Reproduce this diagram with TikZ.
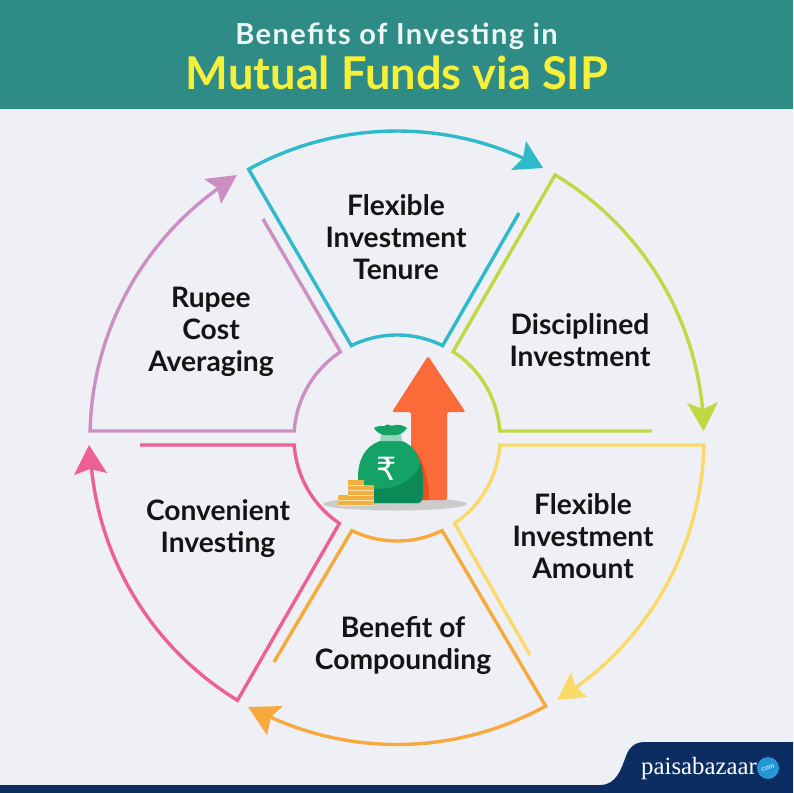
\documentclass[tikz,border=0pt]{standalone}
\usepackage{fontspec}
\setmainfont{Lato}
\newfontfamily\logofont{Liberation Serif}
\newfontfamily\symfont{DejaVu Sans}
\usetikzlibrary{calc}
\definecolor{bgc}{HTML}{EEF0F5}
\definecolor{headc}{HTML}{2E8B85}
\definecolor{titley}{HTML}{F6F03A}
\definecolor{navy}{HTML}{0B2D62}
\definecolor{cteal}{HTML}{2FBACB}
\definecolor{cgreen}{HTML}{BFD943}
\definecolor{cyellow}{HTML}{FBD968}
\definecolor{corange}{HTML}{F8A93C}
\definecolor{cpink}{HTML}{EE6094}
\definecolor{cmauve}{HTML}{CD8FC3}
\definecolor{upc}{HTML}{FB6B3A}
\definecolor{upd}{HTML}{E8501F}
\definecolor{bagc}{HTML}{14A266}
\definecolor{bagd}{HTML}{0B8A58}
\definecolor{coinc}{HTML}{F2B13E}
\newcommand{\cx}{397}
\newcommand{\cy}{438}
\tikzset{
  x=1pt,y=-1pt,
  ring/.style n args={3}{insert path={-- plot[domain=#1:#2,samples=50] ({\cx+#3*cos(\x)},{\cy+#3*sin(\x)})}},
  seg/.style={line width=3.4pt,line join=miter,miter limit=10,line cap=butt},
  tipshape/.style={draw=none},
  lbl/.style={font=\fontsize{28.2}{32}\selectfont\bfseries,align=center,text=black!92,inner sep=0pt},
}
\begin{document}
\begin{tikzpicture}
\useasboundingbox (0,0) rectangle (793,793);
\fill[bgc] (0,0) rectangle (793,793);
\fill[headc] (0,0) rectangle (793,109);
\node[inner sep=0pt,text=white!92!headc,font=\fontsize{29}{34}\selectfont\bfseries\addfontfeatures{LetterSpace=5}] (t1) at (396.5,36) {Benefits of Investing in};
\node[inner sep=0pt,text=titley,font=\fontsize{45.2}{50}\selectfont\bfseries] (t2) at (397,73) {Mutual Funds via SIP};

% teal
\draw[seg,cteal] (519,213) [ring={296.3}{243.7}{103}] [ring={241.1}{295}{307}];
\fill[tipshape,cteal] (543,168) -- (526,141) -- (523,158) -- (511,170) -- cycle;
% green
\draw[seg,cgreen] (652,431) [ring={356.1}{303}{103}] [ring={301}{355.5}{307}];
\fill[tipshape,cgreen] (703.5,431) -- (687,403) -- (703,409) -- (718,402) -- cycle;
% yellow
\draw[seg,cyellow] (530,655) [ring={56}{3.9}{103}] [ring={1.3}{55}{307}];
\fill[tipshape,cyellow] (557,700) -- (571,672) -- (575,685) -- (587,697) -- cycle;
% orange
\draw[seg,corange] (274,662) [ring={116}{64}{103}] [ring={61}{115.5}{306.5}];
\fill[tipshape,corange] (248,707) -- (283,706) -- (271,717) -- (267,735) -- cycle;
% pink
\draw[seg,cpink] (140,445) [ring={176.1}{124}{103}] [ring={121.3}{175}{307}];
\fill[tipshape,cpink] (89,445) -- (74,475) -- (90,469) -- (107,473) -- cycle;
% mauve
\draw[seg,cmauve] (263,219) [ring={236.7}{183.9}{103}] [ring={181.3}{235}{307}];
\fill[tipshape,cmauve] (237,175) -- (204,179) -- (217,188) -- (221,204) -- cycle;

% labels
\node[lbl] (n1) at (396,237) {Flexible\\Investment\\Tenure};
\node[lbl] (n2) at (580,340) {Disciplined\\Investment};
\node[lbl] (n3) at (583,536) {Flexible\\Investment\\Amount};
\node[lbl] (n4) at (403,646) {Benefit of\\Compounding};
\node[lbl] (n5) at (218,529) {Convenient\\Investing};
\node[lbl] (n6) at (211,332) {Rupee\\Cost\\Averaging};

% centre icon
\fill[black!20] (395,504) ellipse [x radius=72,y radius=6.5];
\fill[upc,rounded corners=1.5pt] (428,356) -- (465.5,412) -- (447,412) -- (447,500) -- (411,500) -- (411,412) -- (392,412) -- cycle;
\fill[upd] (411,446) .. controls (423,456) and (429,480) .. (429,500) -- (411,500) -- cycle;
\fill[bagc] (380,441) .. controls (366,446) and (358,458) .. (358,478) .. controls (358,488) and (360,496) .. (362,503)
  -- (418,503) .. controls (423,503) and (423,497) .. (423,485) .. controls (423,465) and (418,447) .. (402,441) -- cycle;
\fill[bagd] (421,462) .. controls (417,480) and (392,494) .. (363,487) .. controls (365,495) and (364,500) .. (366,503) -- (418,503) .. controls (423,503) and (423,497) .. (423,485) .. controls (423,477) and (422,469) .. (421,462) -- cycle;
\fill[bagc!45!white] (381,434) -- (401,434) -- (402,441) -- (380,441) -- cycle;
\fill[bagc] (374,428) .. controls (380,424) and (384,428) .. (386,425) .. controls (388,423) and (391,427) .. (393,425.5) .. controls (398,424) and (403,425) .. (407,428) .. controls (403,434) and (398,436) .. (391,435) .. controls (385,436) and (378,435) .. (374,428) -- cycle;
\node[inner sep=0pt,text=white,font=\symfont\fontsize{32}{32}\selectfont] (rs) at (387,469) {₹};
% coins
\foreach \yy/\xa/\xb in {500/338/374,495/338/374,490/348/374,485/348/374,480/348/364}{
  \fill[coinc] (\xa,\yy) rectangle (\xb,\yy+5);
  \draw[white!60!coinc,line width=0.6pt] (\xa,\yy+5) -- (\xb,\yy+5);
}

% logo
\fill[navy] (0,785) -- (600,785) .. controls (616,785) and (621,770) .. (626,756) .. controls (629,748) and (634,742) .. (645,742) -- (793,742) -- (793,793) -- (0,793) -- cycle;
\node[inner sep=0pt,text=white,font=\logofont\fontsize{24.8}{25}\selectfont,anchor=west] (lg) at (641,769) {paisabazaar};
\fill[cteal!80!blue] (768,768) circle (11);
\node[inner sep=0pt,text=white,font=\fontsize{7}{7}\selectfont,rotate=15] (lc) at (768,768) {com};
\end{tikzpicture}
\end{document}
